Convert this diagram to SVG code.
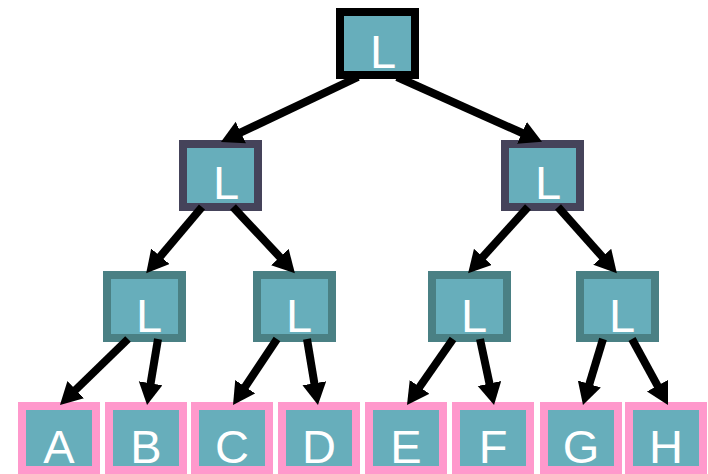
<svg xmlns="http://www.w3.org/2000/svg" width="708" height="474" viewBox="0 0 708 474">
  <style>
    .box { fill: #67aebb; stroke-width: 8; }
    .root { stroke: #000000; }
    .mid { stroke: #45435a; }
    .low { stroke: #4a8084; }
    .leaf { stroke: #ff99cc; }
    .lbl { font-family: "Liberation Sans", Arial, sans-serif; font-size: 47px; fill: #ffffff; text-anchor: middle; }
    .edge { stroke: #000000; stroke-width: 8; fill: none; marker-end: url(#arrow); }
  </style>
  <defs>
    <marker id="arrow" markerUnits="userSpaceOnUse" markerWidth="24" markerHeight="26" refX="4" refY="12" orient="auto">
      <path d="M0,0 L22,12 L0,24 z" fill="#000000"/>
    </marker>
  </defs>

  <!-- tree nodes -->
  <g id="root">
    <rect class="box root" x="340" y="12" width="75" height="63"/>
    <text class="lbl" x="383" y="68">L</text>
  </g>
  <g id="l1">
    <rect class="box mid" x="183" y="144" width="75" height="63"/>
    <text class="lbl" x="226" y="199">L</text>
  </g>
  <g id="r1">
    <rect class="box mid" x="505" y="144" width="75" height="63"/>
    <text class="lbl" x="548" y="199">L</text>
  </g>
  <g id="ll">
    <rect class="box low" x="107" y="275" width="75" height="63"/>
    <text class="lbl" x="149" y="332">L</text>
  </g>
  <g id="lr">
    <rect class="box low" x="257" y="275" width="75" height="63"/>
    <text class="lbl" x="299" y="332">L</text>
  </g>
  <g id="rl">
    <rect class="box low" x="432" y="275" width="75" height="63"/>
    <text class="lbl" x="474" y="332">L</text>
  </g>
  <g id="rr">
    <rect class="box low" x="580" y="275" width="75" height="63"/>
    <text class="lbl" x="622" y="332">L</text>
  </g>

  <!-- leaves -->
  <g id="leafA"><rect class="box leaf" x="22" y="406" width="74" height="64"/><text class="lbl" x="59" y="463">A</text></g>
  <g id="leafB"><rect class="box leaf" x="109" y="406" width="74" height="64"/><text class="lbl" x="146" y="463">B</text></g>
  <g id="leafC"><rect class="box leaf" x="195" y="406" width="74" height="64"/><text class="lbl" x="232" y="463">C</text></g>
  <g id="leafD"><rect class="box leaf" x="282" y="406" width="74" height="64"/><text class="lbl" x="319" y="463">D</text></g>
  <g id="leafE"><rect class="box leaf" x="369" y="406" width="74" height="64"/><text class="lbl" x="406" y="463">E</text></g>
  <g id="leafF"><rect class="box leaf" x="456" y="406" width="74" height="64"/><text class="lbl" x="493" y="463">F</text></g>
  <g id="leafG"><rect class="box leaf" x="544" y="406" width="74" height="64"/><text class="lbl" x="581" y="463">G</text></g>
  <g id="leafH"><rect class="box leaf" x="629" y="406" width="74" height="64"/><text class="lbl" x="666" y="463">H</text></g>

  <!-- connectors -->
  <g id="edges">
    <line class="edge" x1="358" y1="77" x2="237.2" y2="134.2"/>
    <line class="edge" x1="397" y1="77" x2="525.6" y2="134.5"/>
    <line class="edge" x1="202" y1="207" x2="157.8" y2="259.4"/>
    <line class="edge" x1="233" y1="207" x2="282.6" y2="260"/>
    <line class="edge" x1="528" y1="207" x2="480.2" y2="259.8"/>
    <line class="edge" x1="558" y1="207" x2="604.9" y2="259.7"/>
    <line class="edge" x1="128" y1="339" x2="72.9" y2="392.5"/>
    <line class="edge" x1="158" y1="339" x2="150" y2="387.2"/>
    <line class="edge" x1="277" y1="339" x2="243" y2="390"/>
    <line class="edge" x1="307" y1="339" x2="315" y2="387.2"/>
    <line class="edge" x1="453" y1="339" x2="417.3" y2="390.2"/>
    <line class="edge" x1="480" y1="339" x2="490.3" y2="387.4"/>
    <line class="edge" x1="603" y1="339" x2="588.2" y2="387.8"/>
    <line class="edge" x1="632" y1="339" x2="659.4" y2="389.2"/>
  </g>
</svg>
